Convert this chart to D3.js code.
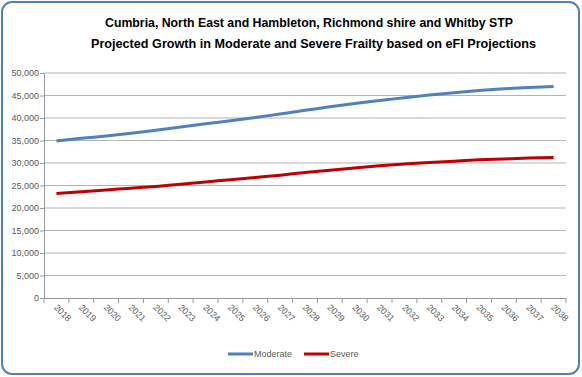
<!DOCTYPE html>
<html>
<head>
<meta charset="utf-8">
<script src="https://cdn.jsdelivr.net/npm/d3@7"></script>
<style>
  body { margin: 0; background: #fff; }
  text { font-family: "Liberation Sans", Arial, sans-serif; }
</style>
</head>
<body>
<svg id="canvas" width="582" height="377"></svg>
<script>
let years = ['2018', '2019', '2020', '2021', '2022', '2023', '2024', '2025', '2026', '2027', '2028',
    '2029', '2030', '2031', '2032', '2033', '2034', '2035', '2036', '2037', '2038'];
let moderate = [34900, 35500, 36000, 36600, 37300, 38000, 38700, 39400, 40100, 40900, 41700,
    42500, 43200, 43900, 44500, 45100, 45600, 46100, 46500, 46800, 47000];
let severe = [23200, 23600, 24000, 24400, 24800, 25300, 25800, 26300, 26800, 27300, 27900,
    28400, 28900, 29400, 29800, 30100, 30400, 30700, 30900, 31100, 31200];
let yTicks = [0, 5000, 10000, 15000, 20000, 25000, 30000, 35000, 40000, 45000, 50000];
let titleLines = ['Cumbria, North East and Hambleton,  Richmond shire and Whitby STP',
    'Projected Growth in Moderate and Severe Frailty based on eFI Projections'];
let seriesNames = ['Moderate', 'Severe'];
let seriesColors = ['#4f81bd', '#c00000'];

let canvas = d3.select('#canvas');

// outer frame
canvas.append('rect')
    .attr('x', 2).attr('y', 2)
    .attr('width', 577).attr('height', 372)
    .attr('rx', 10).attr('ry', 10)
    .attr('fill', '#fff')
    .attr('stroke', '#4f81bd')
    .attr('stroke-width', 2);

// title (Calibri-ish, squeezed to the original width)
let titleX = [105, 91];
let titleW = [408, 445];
canvas.selectAll('.title')
    .data(titleLines)
    .enter()
    .append('text')
    .attr('class', 'title')
    .attr('x', (d, i) => titleX[i])
    .attr('y', (d, i) => 27 + i * 21)
    .attr('font-size', 13)
    .attr('font-weight', 'bold')
    .attr('fill', '#000')
    .attr('textLength', (d, i) => titleW[i])
    .attr('lengthAdjust', 'spacingAndGlyphs')
    .text((d) => d);

let plotLeft = 44, plotRight = 566, plotTop = 73, plotBottom = 298;

let xScale = d3.scaleBand()
    .domain(years)
    .range([plotLeft, plotRight]);

let yScale = d3.scaleLinear()
    .domain([0, 50000])
    .range([plotBottom, plotTop]);

// gridlines
canvas.append('g')
    .selectAll('line')
    .data(yTicks.slice(1))
    .enter()
    .append('line')
    .attr('x1', plotLeft).attr('x2', plotRight)
    .attr('y1', (d) => yScale(d)).attr('y2', (d) => yScale(d))
    .attr('stroke', '#b3b3b3')
    .attr('stroke-width', 1);

// y axis
let yAxis = d3.axisLeft(yScale)
    .tickValues(yTicks)
    .tickFormat(d3.format(','))
    .tickSize(4);
let yG = canvas.append('g')
    .attr('transform', 'translate(' + plotLeft + ',0)')
    .call(yAxis);
yG.select('.domain').attr('stroke', '#999');
yG.selectAll('.tick line').attr('stroke', '#999');
yG.selectAll('.tick text')
    .attr('fill', '#595959')
    .attr('font-size', 9)
    .attr('x', -5)
    .style('font-family', '"Liberation Sans", Arial, sans-serif');

// x axis: ticks between categories
let xG = canvas.append('g')
    .attr('transform', 'translate(0,' + plotBottom + ')');
xG.append('line')
    .attr('x1', plotLeft).attr('x2', plotRight)
    .attr('y1', 0.5).attr('y2', 0.5)
    .attr('stroke', '#999');
let boundaries = years.map((y) => xScale(y)).concat([plotRight]);
xG.selectAll('.xtick')
    .data(boundaries)
    .enter()
    .append('line')
    .attr('class', 'xtick')
    .attr('x1', (d) => d).attr('x2', (d) => d)
    .attr('y1', 0).attr('y2', 5)
    .attr('stroke', '#999');
xG.selectAll('.xlabel')
    .data(years)
    .enter()
    .append('text')
    .attr('class', 'xlabel')
    .attr('transform', (d) => 'translate(' + (xScale(d) + xScale.bandwidth() / 2 - 3) + ',10) rotate(45)')
    .attr('font-size', 9)
    .attr('fill', '#595959')
    .text((d) => d);

// lines
let series = [moderate, severe];
let line = d3.line()
    .x((d, i) => xScale(years[i]) + xScale.bandwidth() / 2)
    .y((d) => yScale(d))
    .curve(d3.curveMonotoneX);

canvas.selectAll('.series')
    .data(series)
    .enter()
    .append('path')
    .attr('class', 'series')
    .attr('d', (d) => line(d))
    .attr('fill', 'none')
    .attr('stroke', (d, i) => seriesColors[i])
    .attr('stroke-width', 3);

// legend
let legend = canvas.append('g');
let legendX = [228, 304];
seriesNames.forEach((name, i) => {
    legend.append('line')
        .attr('x1', legendX[i]).attr('x2', legendX[i] + 25)
        .attr('y1', 354).attr('y2', 354)
        .attr('stroke', seriesColors[i])
        .attr('stroke-width', 3);
    legend.append('text')
        .attr('x', legendX[i] + 26)
        .attr('y', 357)
        .attr('font-size', 9)
        .attr('fill', '#595959')
        .text(name);
});
</script>
</body>
</html>
